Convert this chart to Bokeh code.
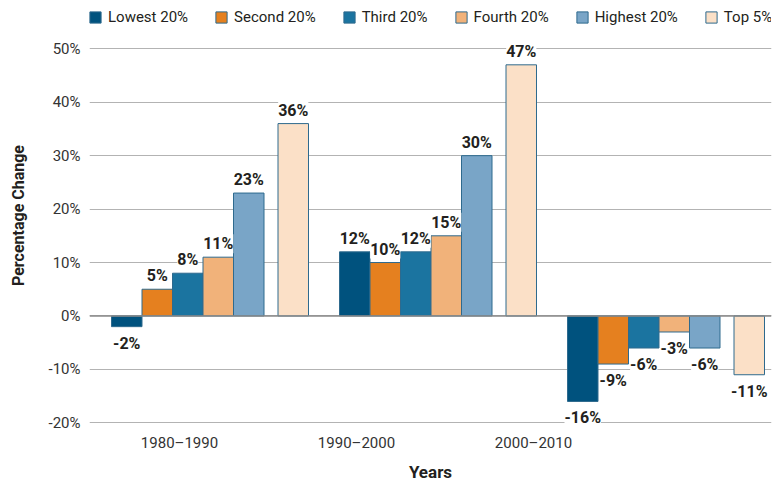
from bokeh.plotting import figure
from bokeh.models import (Range1d, FixedTicker, ColumnDataSource, LabelSet, Legend,
                          LegendItem, Span)
from bokeh.core.properties import value
from bokeh.embed import file_html
from bokeh.resources import INLINE

# ---- data ----
periods = ["1980–1990", "1990–2000", "2000–2010"]
series_names = ["Lowest 20%", "Second 20%", "Third 20%", "Fourth 20%", "Highest 20%", "Top 5%"]
lowest = [-2, 12, -16]
second = [5, 10, -9]
third = [8, 12, -6]
fourth = [11, 15, -3]
highest = [23, 30, -6]
top5 = [36, 47, -11]
y_ticks = [-20, -10, 0, 10, 20, 30, 40, 50]

series_values = [lowest, second, third, fourth, highest, top5]
colors = ["#00527e", "#e5801f", "#1b74a0", "#f1b27a", "#79a5c7", "#fbe0c7"]

FONT = "Roboto"
TXT = "#231f20"

# layout (screen-like units along x)
GROUP_STEP = 228
GROUP_PAD = 22
BAR_W = 30.5
TOP_GAP = 14
LABEL_START = 90
LABEL_STEP = 177

# frame extends up to the legend row (no gridlines drawn above 50%)
p = figure(width=773, height=484, output_backend="svg", toolbar_location=None,
           x_range=Range1d(0, 682), y_range=Range1d(-20.5, 58.1),
           min_border_left=89, min_border_right=2, min_border_top=5, min_border_bottom=59)
p.outline_line_color = None
p.background_fill_color = "white"

p.xgrid.visible = False
p.ygrid.grid_line_color = "#b3b3b3"
p.ygrid.grid_line_width = 1
p.yaxis.ticker = FixedTicker(ticks=y_ticks)
p.yaxis.major_label_overrides = {t: f"{t}%" for t in y_ticks}
p.yaxis.axis_line_color = None
p.yaxis.major_tick_line_color = None
p.yaxis.minor_tick_line_color = None
p.yaxis.major_tick_out = 0
p.yaxis.major_tick_in = 0
p.yaxis.minor_tick_out = 0
p.yaxis.major_label_standoff = 9
p.yaxis.major_label_text_font = FONT
p.yaxis.major_label_text_font_size = "15px"
p.yaxis.major_label_text_color = "#333333"
p.yaxis.axis_label = "Percentage Change"
p.yaxis.axis_label_text_font = FONT
p.yaxis.axis_label_text_font_style = "bold"
p.yaxis.axis_label_text_font_size = "16px"
p.yaxis.axis_label_text_color = TXT
p.yaxis.axis_label_standoff = 18

xt = [LABEL_START + i * LABEL_STEP for i in range(len(periods))]
p.xaxis.ticker = FixedTicker(ticks=xt)
p.xaxis.major_label_overrides = {t: lab for t, lab in zip(xt, periods)}
p.xaxis.axis_line_color = None
p.xaxis.major_tick_line_color = None
p.xaxis.minor_tick_line_color = None
p.xaxis.major_tick_out = 0
p.xaxis.major_tick_in = 0
p.xaxis.minor_tick_out = 0
p.xaxis.major_label_standoff = 8
p.xaxis.major_label_text_font = FONT
p.xaxis.major_label_text_font_size = "15px"
p.xaxis.major_label_text_color = "#333333"
p.xaxis.axis_label = "Years"
p.xaxis.axis_label_text_font = FONT
p.xaxis.axis_label_text_font_style = "bold"
p.xaxis.axis_label_text_font_size = "17px"
p.xaxis.axis_label_text_color = TXT
p.xaxis.axis_label_standoff = 7

p.add_layout(Span(location=0, dimension="width", line_color="#8a8a8a", line_width=1.5))

pos_x, pos_y, pos_t = [], [], []
neg_x, neg_y, neg_t = [], [], []
items = []
for j, (name, vals, col) in enumerate(zip(series_names, series_values, colors)):
    off = GROUP_PAD + BAR_W / 2 + j * BAR_W + (TOP_GAP if j == 5 else 0)
    xs = [i * GROUP_STEP + off for i in range(len(periods))]
    src = ColumnDataSource(dict(x=xs, top=vals))
    r = p.vbar(x="x", top="top", bottom=0, width=BAR_W, source=src,
               fill_color=col, line_color="#2e6a8e", line_width=1)
    items.append(LegendItem(label=name, renderers=[r]))
    for x, v in zip(xs, vals):
        if v >= 0:
            pos_x.append(x); pos_y.append(v); pos_t.append(f"{v}%")
        else:
            neg_x.append(x); neg_y.append(v); neg_t.append(f"{v}%")

common = dict(text_font=value(FONT), text_font_style="bold", text_font_size="16px",
              text_color=TXT, text_align="center", background_fill_color="white")
p.add_layout(LabelSet(x="x", y="y", text="t", source=ColumnDataSource(dict(x=pos_x, y=pos_y, t=pos_t)),
                      y_offset=4, text_baseline="bottom", **common))
p.add_layout(LabelSet(x="x", y="y", text="t", source=ColumnDataSource(dict(x=neg_x, y=neg_y, t=neg_t)),
                      y_offset=-7, text_baseline="top", **common))

legend = Legend(items=items, orientation="horizontal", location=(-1, 399),
                margin=0, padding=0, spacing=26, label_standoff=6,
                glyph_width=14, glyph_height=14,
                label_text_font=FONT, label_text_font_size="15px", label_text_color=TXT,
                border_line_color=None, background_fill_alpha=0)
p.add_layout(legend, "center")

open("out.html", "w").write(file_html(p, INLINE))
